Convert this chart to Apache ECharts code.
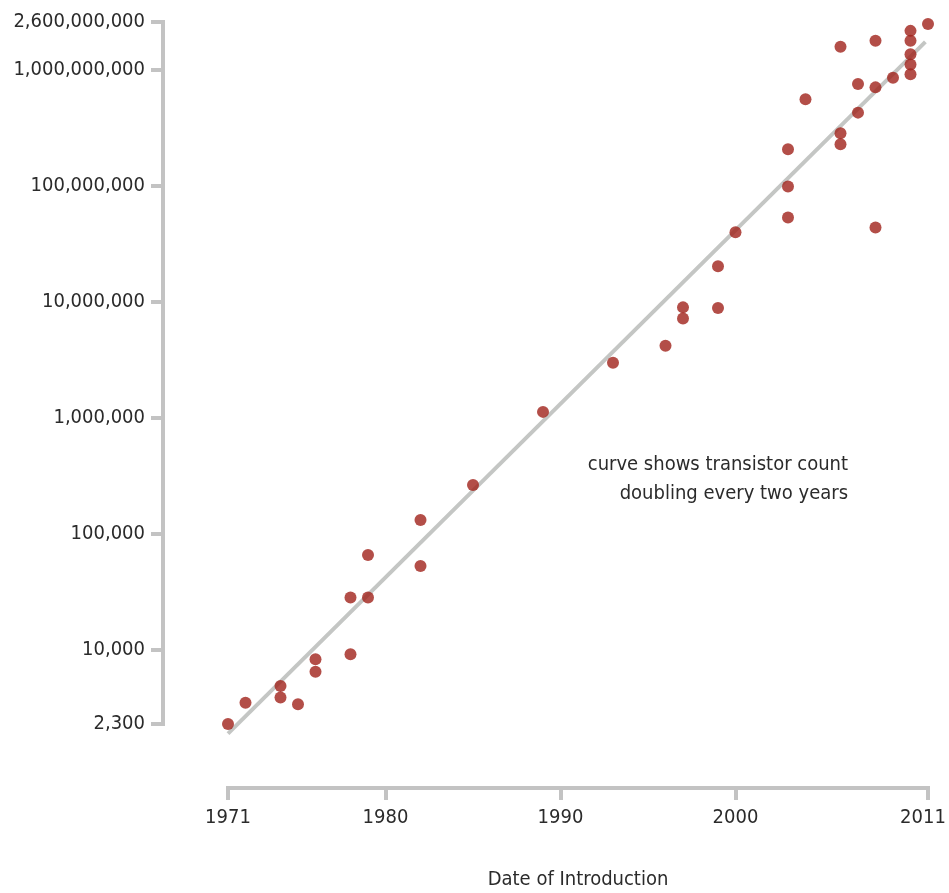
<!DOCTYPE html>
<html>
<head>
<meta charset="utf-8">
<script src="https://cdn.jsdelivr.net/npm/echarts@6/dist/echarts.min.js"></script>
<style>
  html, body { margin: 0; padding: 0; background: #fff; }
  #chart { width: 949px; height: 893px; }
</style>
</head>
<body>
<div id="chart"></div>
<script>
// transistor counts per processor
const years = [
  1971, 1972, 1974, 1974, 1975, 1976, 1976, 1978, 1978, 1979, 1979,
  1982, 1982, 1985, 1989, 1993, 1996, 1997, 1997, 1999, 1999, 2000,
  2003, 2003, 2003, 2004, 2006, 2006, 2006, 2007, 2007, 2008, 2008, 2008,
  2009, 2010, 2010, 2010, 2010, 2010, 2011
]
const counts = [
  2300, 3500, 4900, 3900, 3400, 8300, 6500, 9200, 28400, 28400, 66000,
  132000, 53000, 264000, 1130000, 3000000, 4200000, 9000000, 7200000, 20400000, 8900000, 40000000,
  53700000, 99000000, 208000000, 560000000, 1590000000, 285000000, 229000000, 760000000, 430000000, 1790000000, 710000000, 44000000,
  860000000, 2180000000, 1790000000, 1370000000, 1120000000, 920000000, 2500000000
]

// the "doubling every two years" line, its two ends
const trendYears = [1971, 2010.85]
const trendCounts = [1900, 1750000000]

const xTicks = [1971, 1980, 1990, 2000, 2011]
const yMin = 2300
const yMax = 2600000000

const fontFamily = "'DejaVu Sans Condensed', 'Liberation Sans', sans-serif"
const textColor = '#2b2b2b'
const axisColor = '#c3c3c3'

const chart = echarts.init(document.getElementById('chart'))

chart.setOption({
  animation: false,
  textStyle: { fontFamily: fontFamily },
  grid: { left: 228, right: 21, top: 22, bottom: 169, outerBoundsMode: 'none' },
  xAxis: {
    type: 'value',
    min: 1971,
    max: 2011,
    offset: 64,
    name: 'Date of Introduction',
    nameLocation: 'middle',
    nameGap: 82,
    nameTextStyle: { fontSize: 20, color: textColor, fontFamily: fontFamily },
    axisLine: { show: true, lineStyle: { color: axisColor, width: 4, cap: 'square' } },
    axisTick: { show: true, length: 12, lineStyle: { color: axisColor, width: 4 }, customValues: xTicks },
    axisLabel: {
      color: textColor, fontSize: 20, margin: 20, fontFamily: fontFamily,
      customValues: xTicks,
      // keep the last year inside the canvas
      formatter: v => (v === 2011 ? '{last|' + v + '}' : String(v)),
      rich: { last: { fontSize: 20, color: textColor, padding: [0, 10, 0, 0] } }
    },
    splitLine: { show: false }
  },
  yAxis: {
    type: 'log',
    logBase: 10,
    min: yMin,
    max: yMax,
    offset: 65,
    axisLine: { show: true, lineStyle: { color: axisColor, width: 4, cap: 'square' } },
    axisTick: { show: true, length: 12, lineStyle: { color: axisColor, width: 4 } },
    axisLabel: {
      color: textColor, fontSize: 20, margin: 18, fontFamily: fontFamily,
      showMinLabel: true, showMaxLabel: true,
      formatter: v => Math.round(v).toLocaleString('en-US')
    },
    splitLine: { show: false }
  },
  graphic: [{
    type: 'text',
    x: 848,
    y: 450,
    style: {
      text: 'curve shows transistor count\ndoubling every two years',
      align: 'right',
      verticalAlign: 'top',
      font: '20px ' + fontFamily,
      lineHeight: 29,
      fill: textColor
    }
  }],
  series: [
    {
      type: 'line',
      data: trendYears.map((y, i) => [y, trendCounts[i]]),
      showSymbol: false,
      symbol: 'none',
      clip: false,
      lineStyle: { color: '#c4c6c4', width: 4 },
      z: 1
    },
    {
      type: 'scatter',
      data: years.map((y, i) => [y, counts[i]]),
      symbolSize: 12,
      clip: false,
      itemStyle: { color: '#a0221a' },
      z: 2
    }
  ]
})
</script>
</body>
</html>
